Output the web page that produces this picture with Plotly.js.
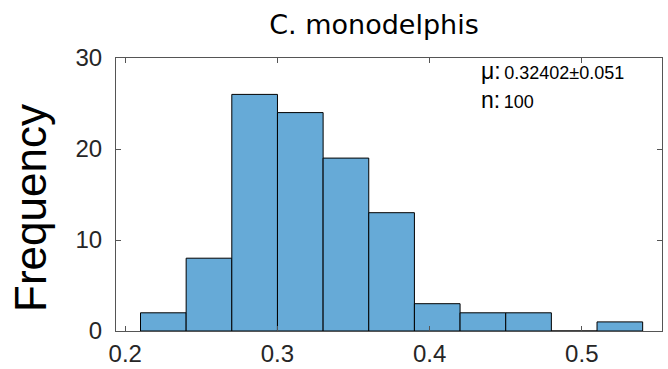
<!DOCTYPE html>
<html>
<head>
<meta charset="utf-8">
<script src="https://cdn.plot.ly/plotly-3.0.1.min.js"></script>
<style>html,body{margin:0;padding:0;background:#fff;}#chart{width:668px;height:369px;}</style>
</head>
<body>
<div id="chart"></div>
<script>
// ---- data ----
const binEdges = [0.21, 0.24, 0.27, 0.30, 0.33, 0.36, 0.39, 0.42, 0.45, 0.48, 0.51, 0.54];
const counts   = [2, 8, 26, 24, 19, 13, 3, 2, 2, 0, 1];
const xTickVals = [0.2, 0.3, 0.4, 0.5];
const xTickText = ['0.2', '0.3', '0.4', '0.5'];
const yTickVals = [0, 10, 20, 30];
const yTickText = ['0', '10', '20', '30'];
const titleText = 'C. monodelphis';
const yLabel = 'Frequency';
const statMean = '0.32402';
const statStd = '0.051';
const statN = '100';

// ---- figure ----
const centers = counts.map((c, i) => (binEdges[i] + binEdges[i + 1]) / 2);
const widths = counts.map((c, i) => binEdges[i + 1] - binEdges[i]);

const W = 668, H = 369;
const m = {l: 116, r: 6, t: 58, b: 38};
const pw = W - m.l - m.r, ph = H - m.t - m.b;
const px = x => (x - m.l) / pw;
const py = y => (H - m.b - y) / ph;

const tickFont = {family: 'Liberation Sans, Arial, sans-serif', size: 24, color: '#262626'};

const trace = {
  type: 'bar',
  x: centers,
  y: counts,
  width: widths,
  marker: {color: 'rgb(102,170,215)', line: {color: '#000', width: 1}},
  hoverinfo: 'x+y'
};

const layout = {
  width: W, height: H,
  margin: m,
  paper_bgcolor: '#fff', plot_bgcolor: '#fff',
  showlegend: false,
  bargap: 0,
  title: {
    text: titleText,
    font: {family: 'DejaVu Sans, sans-serif', size: 27, color: '#000'},
    xref: 'paper', x: px(374), xanchor: 'center',
    yref: 'container', y: 1 - 25 / H, yanchor: 'middle'
  },
  xaxis: {
    range: [0.1939, 0.5527],
    tickvals: xTickVals, ticktext: xTickText,
    ticks: 'inside', ticklen: 5, tickwidth: 1, tickcolor: '#555',
    showline: true, linecolor: '#555', linewidth: 1, mirror: 'ticks',
    showgrid: false, zeroline: false,
    tickfont: tickFont, ticklabelstandoff: 1
  },
  yaxis: {
    range: [0, 30],
    tickvals: yTickVals, ticktext: yTickText,
    ticks: 'inside', ticklen: 5, tickwidth: 1, tickcolor: '#555',
    showline: true, linecolor: '#555', linewidth: 1, mirror: 'ticks',
    showgrid: false, zeroline: false,
    tickfont: tickFont, ticklabelstandoff: 8
  },
  annotations: [
    {
      text: yLabel, textangle: -90, showarrow: false,
      xref: 'paper', yref: 'paper', x: px(30), y: py(208),
      xanchor: 'center', yanchor: 'middle',
      font: {family: 'Liberation Sans, Arial, sans-serif', size: 44, color: '#000'}
    },
    {
      text: '<span style="font-size:23px">μ:</span>\u2009' + statMean + '±' + statStd,
      showarrow: false, xref: 'paper', yref: 'paper',
      x: px(479), y: py(71), xanchor: 'left', yanchor: 'middle',
      font: {family: 'Liberation Sans, Arial, sans-serif', size: 18, color: '#000'}
    },
    {
      text: '<span style="font-size:23px">n:</span>\u2009' + statN,
      showarrow: false, xref: 'paper', yref: 'paper',
      x: px(479), y: py(100), xanchor: 'left', yanchor: 'middle',
      font: {family: 'Liberation Sans, Arial, sans-serif', size: 18, color: '#000'}
    }
  ]
};

Plotly.newPlot('chart', [trace], layout, {staticPlot: true, displayModeBar: false});
</script>
</body>
</html>
